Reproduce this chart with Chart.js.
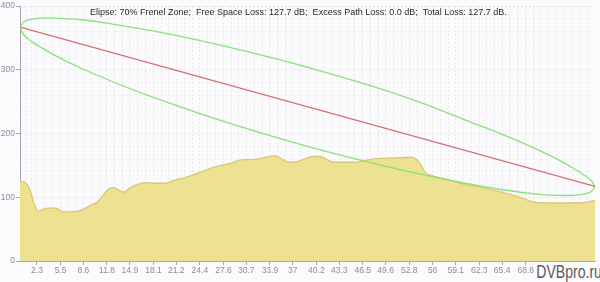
<!DOCTYPE html>
<html>
<head>
<meta charset="utf-8">
<script src="https://cdn.jsdelivr.net/npm/chart.js@4/dist/chart.umd.min.js"></script>
<style>
  html, body { margin: 0; padding: 0; background: #fbfafc; }
  #wrap { position: relative; width: 600px; height: 282px; overflow: hidden; }
  #c { display: block; }
  #wm { position: absolute; left: 534px; top: 262px; height: 20px; padding: 0 3px;
        font: 18px "Liberation Sans", sans-serif; color: #5a5a5a;
        background: #fbfafc; line-height: 20px; transform: scaleX(0.78); transform-origin: 0 0; white-space: nowrap; }
</style>
</head>
<body>
<div id="wrap">
  <canvas id="c" width="600" height="282"></canvas>
  <div id="wm">DVBpro.ru</div>
</div>
<script>
const titleText = 'Elipse: 70% Frenel Zone;  Free Space Loss: 127.7 dB;  Excess Path Loss: 0.0 dB;  Total Loss: 127.7 dB.';

const xTickLabels = ['2.3','5.5','8.6','11.8','14.9','18.1','21.2','24.4','27.6','30.7','33.9','37','40.2','43.3','46.5','49.6','52.8','56','59.1','62.3','65.4','68.6','71.7','74.9'];
const yTickLabels = [0, 100, 200, 300, 400];

const terrainX = [0,0.81,1.36,1.9,2.44,3.12,4.07,4.88,5.83,7.19,8.55,9.5,10.45,11.26,11.94,12.62,13.3,14.11,14.93,15.88,16.96,18.32,19.67,20.76,22.39,24.42,26.19,28.49,30.26,31.61,32.97,34.6,35.28,36.23,37.31,38.4,39.76,40.71,41.66,42.47,44.1,45.73,46.81,48.85,51.56,53.19,54.27,54.95,55.9,57.94,59.7,62.42,65.13,67.84,69.88,71.91,74.63,76.66,78];
const terrainY = [125,122,111,90,78,81,83,83,77,77,81,87,92,103,112,115,112,108,115,120,123,122,122,126,131,139,147,153,159,159,162,165,162,156,155,159,164,164,159,155,155,155,158,161,162,163,153,139,134,128,122,116,109,100,92,91,91,92,95];

const losX = [0, 78];
const losY = [367, 117];

const ellUpX = [0,0.5,1.5,3,5,8,12,18,24,31,39,47,54,60,66,70,73,75,76.5,77.5,78];
const ellUpY = [367,375,379,381,381,379,373,361,347,328,304,277,250,223,196,176,159,146,135,126,117];

const ellLoX = [0,0.5,1.5,3,5,8,12,18,24,31,39,47,54,60,66,70,73,75,76.5,77.5,78];
const ellLoY = [367,355,345,334,321,304,284,257,233,207,180,156,137,123,111,105,103,103,105,109,117];

const pts = (xs, ys) => xs.map((x, i) => ({x: x, y: ys[i]}));
const majorX = xTickLabels.map(Number);

const titlePlugin = {
  id: 'titleInPlot',
  afterDatasetsDraw(chart) {
    const ctx = chart.ctx;
    ctx.save();
    ctx.font = '9px "Liberation Sans", sans-serif';
    ctx.fillStyle = '#2a2a2a';
    ctx.textBaseline = 'middle';
    ctx.textAlign = 'left';
    ctx.fillText(titleText, 90, 13);
    ctx.restore();
  }
};

const tickFont = { family: '"Liberation Sans", sans-serif', size: 8.5 };

new Chart(document.getElementById('c'), {
  type: 'line',
  data: {
    datasets: [
      { label: 'LOS', data: pts(losX, losY), borderColor: 'rgba(205,95,95,0.9)', borderWidth: 1.2, pointRadius: 0, fill: false, order: 1 },
      { label: 'Fresnel upper', data: pts(ellUpX, ellUpY), borderColor: 'rgba(130,224,115,0.95)', borderWidth: 1.3, pointRadius: 0, fill: false, tension: 0.4, order: 2 },
      { label: 'Fresnel lower', data: pts(ellLoX, ellLoY), borderColor: 'rgba(130,224,115,0.95)', borderWidth: 1.3, pointRadius: 0, fill: false, tension: 0.4, order: 3 },
      { label: 'Terrain', data: pts(terrainX, terrainY), borderColor: '#d8c774', borderWidth: 1.3, backgroundColor: 'rgba(236,223,140,0.95)', pointRadius: 0, fill: 'origin', cubicInterpolationMode: 'monotone', order: 4 }
    ]
  },
  options: {
    responsive: false,
    animation: false,
    devicePixelRatio: 1,
    layout: { padding: { top: 5, right: 5, left: 0, bottom: 0 } },
    plugins: { legend: { display: false }, tooltip: { enabled: false }, title: { display: false } },
    scales: {
      x: {
        type: 'linear', min: 0, max: 78,
        afterBuildTicks(scale) {
          const vals = [];
          const all = [0].concat(majorX);
          for (let i = 0; i < all.length; i++) {
            const a = all[i], b = (i + 1 < all.length) ? all[i + 1] : all[i] + (all[i] - all[i - 1]);
            if (i > 0) vals.push({ value: a, major: true });
            for (let k = 1; k < 3; k++) {
              const v = a + (b - a) * k / 3;
              if (v <= 78) vals.push({ value: v, major: false });
            }
          }
          scale.ticks = vals;
        },
        afterFit(scale) { scale.height = 21; },
        ticks: {
          autoSkip: false, maxRotation: 0, color: '#8c8c96', font: tickFont, padding: 1,
          callback(value, index, ticks) {
            const t = ticks[index];
            if (!t || !t.major) return '';
            const i = majorX.indexOf(t.value);
            return i >= 0 ? xTickLabels[i] : '';
          }
        },
        grid: {
          color: 'rgba(120,120,140,0.14)', lineWidth: 1, tickLength: 4,
          tickColor: (c) => (c.tick && c.tick.major) ? '#a8a8b0' : 'rgba(0,0,0,0)'
        },
        border: { color: '#a8a8b0', width: 1, dash: [2, 2] }
      },
      y: {
        min: 0, max: 400,
        afterBuildTicks(scale) {
          const vals = [];
          for (let v = 0; v <= 400; v += 20) vals.push({ value: v, major: yTickLabels.indexOf(v) >= 0 });
          scale.ticks = vals;
        },
        afterFit(scale) { scale.width = 20; },
        ticks: {
          autoSkip: false, color: '#8c8c96', font: tickFont, padding: 1,
          callback(value) { return yTickLabels.indexOf(value) >= 0 ? String(value) : ''; }
        },
        grid: {
          color: (c) => (c.tick && c.tick.major) ? 'rgba(120,120,140,0.16)' : 'rgba(120,120,140,0.08)',
          tickLength: 4,
          tickColor: (c) => (c.tick && c.tick.major) ? '#a8a8b0' : 'rgba(0,0,0,0)'
        },
        border: { color: '#a8a8b0', width: 1, dash: [2, 2] }
      }
    }
  },
  plugins: [titlePlugin]
});
</script>
</body>
</html>
